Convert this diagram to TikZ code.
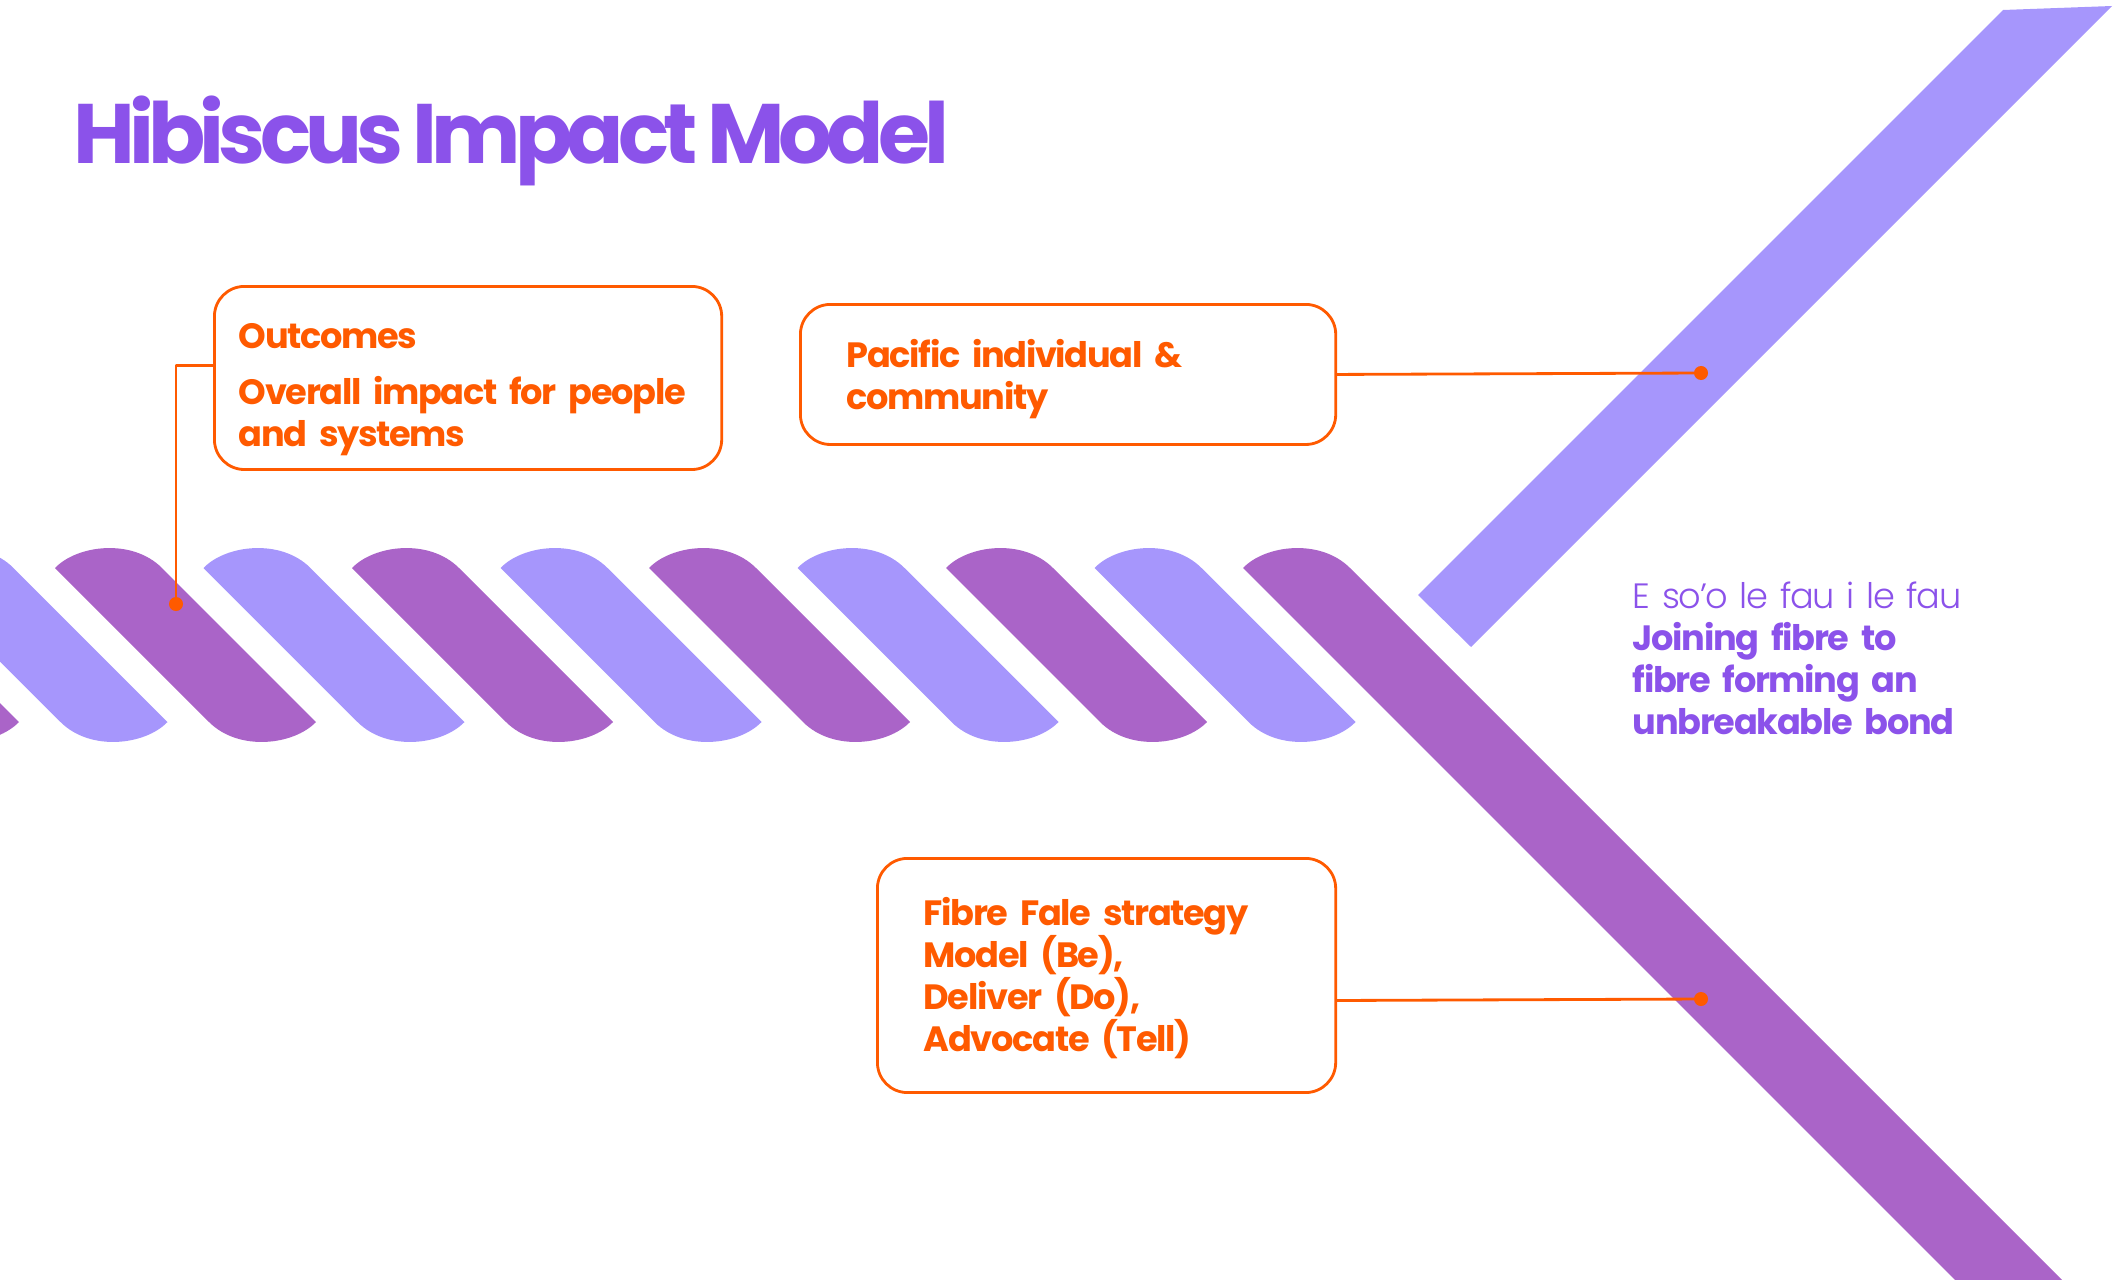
\documentclass[tikz,border=0pt]{standalone}
\usepackage{fontspec}
\setmainfont{Poppins}[LetterSpace=-3.8, WordSpace=0.85]
\newfontfamily\poplight{Poppins Light}[LetterSpace=-3.8, WordSpace=0.8]
\newfontfamily\titlefont{Poppins}[LetterSpace=-7, WordSpace=0.8]
\definecolor{hibpurple}{HTML}{8B52EA}
\definecolor{hiborange}{HTML}{FF5A00}
\definecolor{darkfibre}{HTML}{AA64C8}
\definecolor{lightfibre}{HTML}{A696FC}
\begin{document}
\begin{tikzpicture}[x=0.01cm, y=-0.01cm, line join=round, line cap=round,
  card/.style={draw=hiborange, line width=0.8pt, rounded corners=3mm, inner sep=0pt, anchor=north west},
  cardtext/.style={anchor=base west, inner sep=0pt, text=hiborange, text width=5cm, align=left, font=\fontsize{10pt}{12pt}\selectfont\bfseries},
  wire/.style={hiborange, line width=0.8pt},
  dot/.style={circle, fill=hiborange, inner sep=0pt, minimum size=1.4mm}]
\useasboundingbox (0,0) rectangle (2122,1279);
\clip (0,0) rectangle (2122,1279);
% rope
\foreach \i in {-2,...,7}{
  \pgfmathsetmacro\x{55+148.5*\i}
  \ifodd\i \def\fibrecol{lightfibre}\else \def\fibrecol{darkfibre}\fi
  \fill[\fibrecol] (\x,568) .. controls (\x+22,545) and (\x+77,538) .. (\x+107,568) -- (\x+261,722)
    .. controls (\x+239,745) and (\x+184,752) .. (\x+154,722) -- cycle;
}
\fill[darkfibre] (1243,568) .. controls (1265,545) and (1320,538) .. (1350,568) -- (2150,1368) -- (2043,1368) -- cycle;
\fill[lightfibre] (2003,10) -- (2112,6) -- (1471,647) -- (1418,595) -- cycle;
% title
\node[anchor=base west, inner sep=0pt, text=hibpurple, font=\titlefont\fontsize{24pt}{28pt}\selectfont\bfseries] (title) at (73,163) {Hibiscus Impact Model};
% boxes
\node[card, minimum width=5.07cm, minimum height=1.83cm] (outcomes) at (213,285) {};
\node[cardtext] (outcomes-txt) at (238,348) {Outcomes\\[4pt]Overall impact for people\\and systems};
\node[card, minimum width=5.35cm, minimum height=1.40cm] (pacific) at (799,303) {};
\node[cardtext] (pacific-txt) at (846,367) {Pacific individual \&\\community};
\node[card, minimum width=4.58cm, minimum height=2.34cm] (fale) at (876,857) {};
\node[cardtext] (fale-txt) at (923,925) {Fibre Fale strategy\\Model (Be),\\Deliver (Do),\\Advocate (Tell)};
\node[anchor=base west, inner sep=0pt, text=hibpurple, text width=5cm, align=left, font=\fontsize{10pt}{12pt}\selectfont] (motto) at (1632,608)
  {{\poplight E so’o le fau i le fau}\\\textbf{Joining fibre to}\\\textbf{fibre forming an}\\\textbf{unbreakable bond}};
% connectors
\node[dot] (outdot) at (176,604) {};
\node[dot] (pacdot) at (1701,373) {};
\node[dot] (faledot) at (1701,999) {};
\draw[wire] ([yshift=1.25mm]outcomes.west) -| (outdot.center);
\draw[wire] (pacific.east) -- (pacdot.center);
\draw[wire] ([yshift=-2.5mm]fale.east) -- (faledot.center);
\end{tikzpicture}
\end{document}
